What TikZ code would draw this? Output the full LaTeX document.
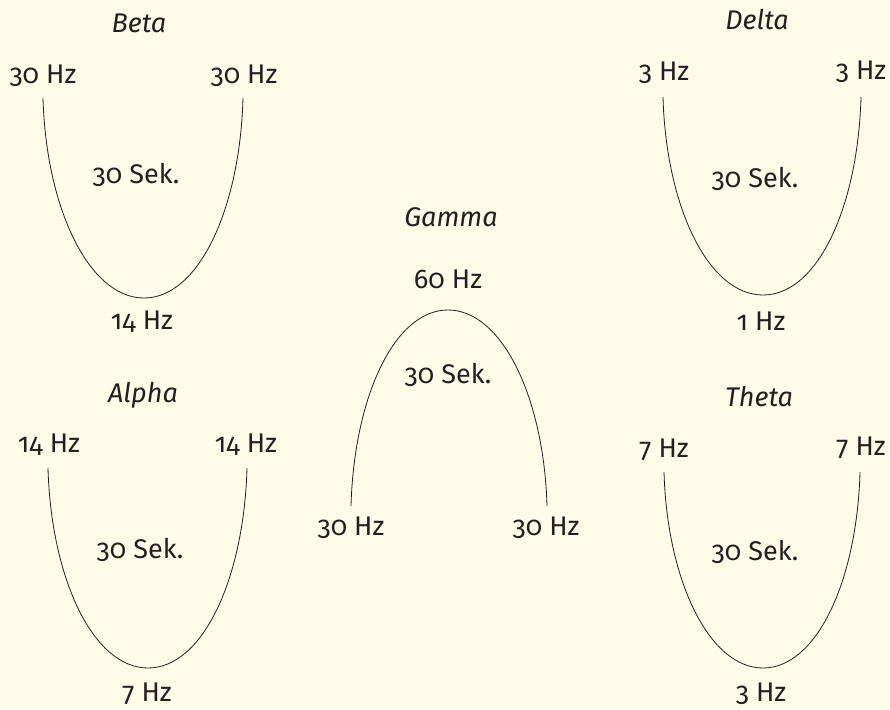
\documentclass[tikz,border=0pt]{standalone}
\usepackage{fontspec}
\setmainfont{Fira Sans}[Numbers=OldStyle]
\usetikzlibrary{calc}
\definecolor{bg}{RGB}{255,251,233}
\definecolor{ink}{RGB}{35,31,32}
\begin{document}
\begin{tikzpicture}[x=1pt,y=-1pt,
  lbl/.style={text=ink, font=\fontsize{27}{32}\selectfont, anchor=base, inner sep=0pt},
  ttl/.style={lbl, font=\fontsize{27}{32}\selectfont\itshape},
  wave/.style={draw=ink, line width=0.8pt}]
\fill[bg] (0,0) rectangle (890,709);
\useasboundingbox (0,0) rectangle (890,709);

% Beta
\node[ttl] (betaT) at (139,33) {Beta};
\node[lbl] (betaL) at (43,83) {30 Hz};
\node[lbl] (betaR) at (244,83) {30 Hz};
\node[lbl] (betaS) at (136,183) {30 Sek.};
\node[lbl] (betaB) at (142,329) {14 Hz};
\coordinate (bL) at (43,98); \coordinate (bR) at (243,98); \coordinate (bB) at (144,298);
\draw[wave] (bL) .. controls ($(bL)+(3,110)$) and ($(bB)+(-55,0)$) .. (bB)
  .. controls ($(bB)+(55,0)$) and ($(bR)+(-3,110)$) .. (bR);

% Alpha
\node[ttl] (alphaT) at (143,402) {Alpha};
\node[lbl] (alphaL) at (49,452) {14 Hz};
\node[lbl] (alphaR) at (246,452) {14 Hz};
\node[lbl] (alphaS) at (140,558) {30 Sek.};
\node[lbl] (alphaB) at (147,701) {7 Hz};
\coordinate (aL) at (48,468); \coordinate (aR) at (247,468); \coordinate (aB) at (148,668);
\draw[wave] (aL) .. controls ($(aL)+(3,110)$) and ($(aB)+(-55,0)$) .. (aB)
  .. controls ($(aB)+(55,0)$) and ($(aR)+(-3,110)$) .. (aR);

% Delta
\node[ttl] (deltaT) at (757,30) {Delta};
\node[lbl] (deltaL) at (664,80) {3 Hz};
\node[lbl] (deltaR) at (861,79) {3 Hz};
\node[lbl] (deltaS) at (755,187) {30 Sek.};
\node[lbl] (deltaB) at (761,330) {1 Hz};
\coordinate (dL) at (663,97); \coordinate (dR) at (861,97); \coordinate (dB) at (763,295);
\draw[wave] (dL) .. controls ($(dL)+(3,109)$) and ($(dB)+(-55,0)$) .. (dB)
  .. controls ($(dB)+(55,0)$) and ($(dR)+(-3,109)$) .. (dR);

% Theta
\node[ttl] (thetaT) at (759,406) {Theta};
\node[lbl] (thetaL) at (664,457) {7 Hz};
\node[lbl] (thetaR) at (861,455) {7 Hz};
\node[lbl] (thetaS) at (755,560) {30 Sek.};
\node[lbl] (thetaB) at (761,701) {3 Hz};
\coordinate (tL) at (664,472); \coordinate (tR) at (860,472); \coordinate (tB) at (763,668);
\draw[wave] (tL) .. controls ($(tL)+(3,108)$) and ($(tB)+(-54,0)$) .. (tB)
  .. controls ($(tB)+(54,0)$) and ($(tR)+(-3,108)$) .. (tR);

% Gamma
\node[ttl] (gammaT) at (451,226) {Gamma};
\node[lbl] (gammaTop) at (448,288) {60 Hz};
\node[lbl] (gammaS) at (448,383) {30 Sek.};
\node[lbl] (gammaL) at (351,535) {30 Hz};
\node[lbl] (gammaR) at (546,535) {30 Hz};
\coordinate (gL) at (351,506); \coordinate (gR) at (547,506); \coordinate (gT) at (448,310);
\draw[wave] (gL) .. controls ($(gL)+(3,-108)$) and ($(gT)+(-54,0)$) .. (gT)
  .. controls ($(gT)+(54,0)$) and ($(gR)+(-3,-108)$) .. (gR);
\end{tikzpicture}
\end{document}
